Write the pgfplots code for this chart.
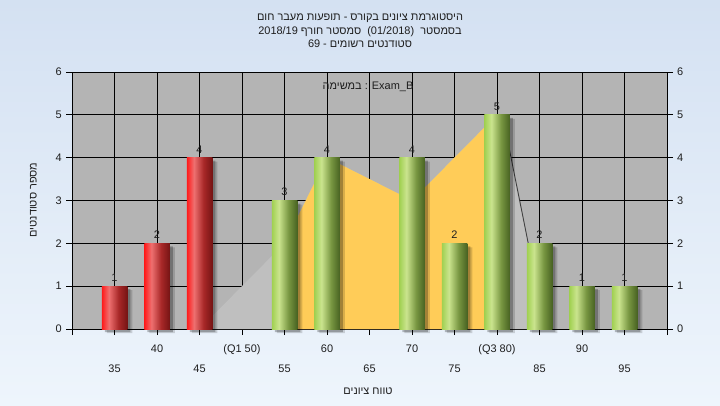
\documentclass[border=0pt]{standalone}
\usepackage{pgfplots}
\pgfplotsset{compat=1.18}
\usepackage{fontspec}
\setmainfont{Liberation Sans}
\newfontfamily\hebfont[Script=Hebrew]{Liberation Sans}
\TeXXeTstate=1
\newcommand\lab{\fontsize{11}{13}\selectfont}
\definecolor{bgtop}{RGB}{212,225,242}
\definecolor{bgbot}{RGB}{238,245,252}
\definecolor{plotbg}{RGB}{180,180,180}
\definecolor{areagray}{RGB}{191,191,191}
\definecolor{areaorange}{RGB}{255,204,88}
\definecolor{txt}{RGB}{30,30,30}
\definecolor{r1}{RGB}{255,25,25}
\definecolor{r2}{RGB}{238,112,112}
\definecolor{r3}{RGB}{168,40,40}
\definecolor{r4}{RGB}{118,20,20}
\definecolor{g1}{RGB}{160,208,80}
\definecolor{g2}{RGB}{202,228,142}
\definecolor{g3}{RGB}{120,150,65}
\definecolor{g4}{RGB}{72,98,34}
\pgfdeclarehorizontalshading{redbar}{100bp}{color(0bp)=(r1); color(25bp)=(r1); color(39bp)=(r2); color(58bp)=(r3); color(75bp)=(r4); color(100bp)=(r4)}
\pgfdeclarehorizontalshading{greenbar}{100bp}{color(0bp)=(g1); color(25bp)=(g1); color(39bp)=(g2); color(58bp)=(g3); color(75bp)=(g4); color(100bp)=(g4)}
\pgfplotsset{every tick label/.append style={font=\lab, text=txt}, /pgf/number format/assume math mode=true}
\newcommand\mybar[3]{%
  \addplot[ybar, bar width=25.5bp, bar shift=0pt, draw=none, shade, shading=#3,
    nodes near coords, nodes near coords style={font=\lab, text=txt, anchor=south, yshift=1bp}]
    coordinates {(#1,#2)};}
\begin{document}
\begin{tikzpicture}[x=1bp,y=1bp]
\shade[top color=bgtop, bottom color=bgbot] (0,0) rectangle (720,405);
\begin{axis}[
  at={(72bp,76bp)}, anchor=south west,
  scale only axis, width=595bp, height=257bp,
  xmin=30, xmax=100, ymin=0, ymax=6,
  clip=false,
  axis background/.style={fill=plotbg},
  axis line style={black, line width=0.8bp},
  grid=major, grid style={black, line width=0.8bp},
  xtick={30,40,...,100}, xticklabels={,40,(Q1 50),60,70,(Q3 80),90,},
  extra x ticks={35,45,...,95}, extra x tick labels={35,45,55,65,75,85,95},
  extra x tick style={grid=major, xticklabel style={yshift=-19.7bp}},
  xticklabel style={anchor=base, yshift=-17.6bp},
  ytick={0,...,6}, ytick pos=left, xtick pos=bottom,
  yticklabel style={anchor=east, inner sep=0pt, xshift=-4bp},
  tick align=outside, major tick length=6bp,
  tick style={black, line width=0.8bp},
]
\addplot[fill=areagray, draw=none] coordinates {(45,0)(50,1)(55,2)(60,4)(65,3.5)(70,3)(75,4)(80,5)(80.64,5)(85.7,0)} \closedcycle;
\addplot[fill=areaorange, draw=none] coordinates {(55,2)(60,4)(65,3.5)(70,3)(75,4)(80,5)} \closedcycle;
\addplot[draw=black!75, line width=0.9bp] coordinates {(80.64,5)(85.7,0)};
% shadows
\addplot[ybar, bar width=25.5bp, bar shift=5bp, yshift=-4bp, fill=black, fill opacity=0.15, draw=none] coordinates {(35,1)(40,2)(45,4)(55,3)(60,4)(70,4)(75,2)(80,5)(85,2)(90,1)(95,1)};
\addplot[ybar, bar width=25.5bp, bar shift=3bp, yshift=-3bp, fill=black, fill opacity=0.25, draw=none] coordinates {(35,1)(40,2)(45,4)(55,3)(60,4)(70,4)(75,2)(80,5)(85,2)(90,1)(95,1)};
% bars
\mybar{35}{1}{redbar}
\mybar{40}{2}{redbar}
\mybar{45}{4}{redbar}
\mybar{55}{3}{greenbar}
\mybar{60}{4}{greenbar}
\mybar{70}{4}{greenbar}
\mybar{75}{2}{greenbar}
\mybar{80}{5}{greenbar}
\mybar{85}{2}{greenbar}
\mybar{90}{1}{greenbar}
\mybar{95}{1}{greenbar}
\end{axis}
\begin{axis}[
  at={(72bp,76bp)}, anchor=south west,
  scale only axis, width=595bp, height=257bp,
  xmin=30, xmax=100, ymin=0, ymax=6,
  hide x axis, axis y line*=right,
  axis line style={black, line width=0.8bp},
  ytick={0,...,6}, tick align=outside, major tick length=6bp,
  tick style={black, line width=0.8bp},
  yticklabel style={anchor=west, inner sep=0pt, xshift=4bp},
]
\addplot[draw=none] coordinates {(30,0)(100,6)};
\end{axis}
\node[font=\lab, text=txt, anchor=base] at (360,385) {\hebfont\beginR היסטוגרמת ציונים בקורס - תופעות מעבר חום\endR};
\node[font=\lab, text=txt, anchor=base] at (360,371) {\hebfont\beginR בסמסטר\ \ (01/2018)\ \ סמסטר חורף 2018/19\endR};
\node[font=\lab, text=txt, anchor=base] at (360,357.5) {\hebfont\beginR סטודנטים רשומים - 69\endR};
\node[font=\lab, text=txt, anchor=base] at (368,315.3) {{\hebfont\beginR במשימה\endR} : Exam\_B};
\node[font=\lab, text=txt, anchor=base] at (368,11) {\hebfont\beginR טווח ציונים\endR};
\node[font=\lab, text=txt, rotate=90] at (33.3,205) {\hebfont\beginR מספר סטודנטים\endR};
\end{tikzpicture}
\end{document}
